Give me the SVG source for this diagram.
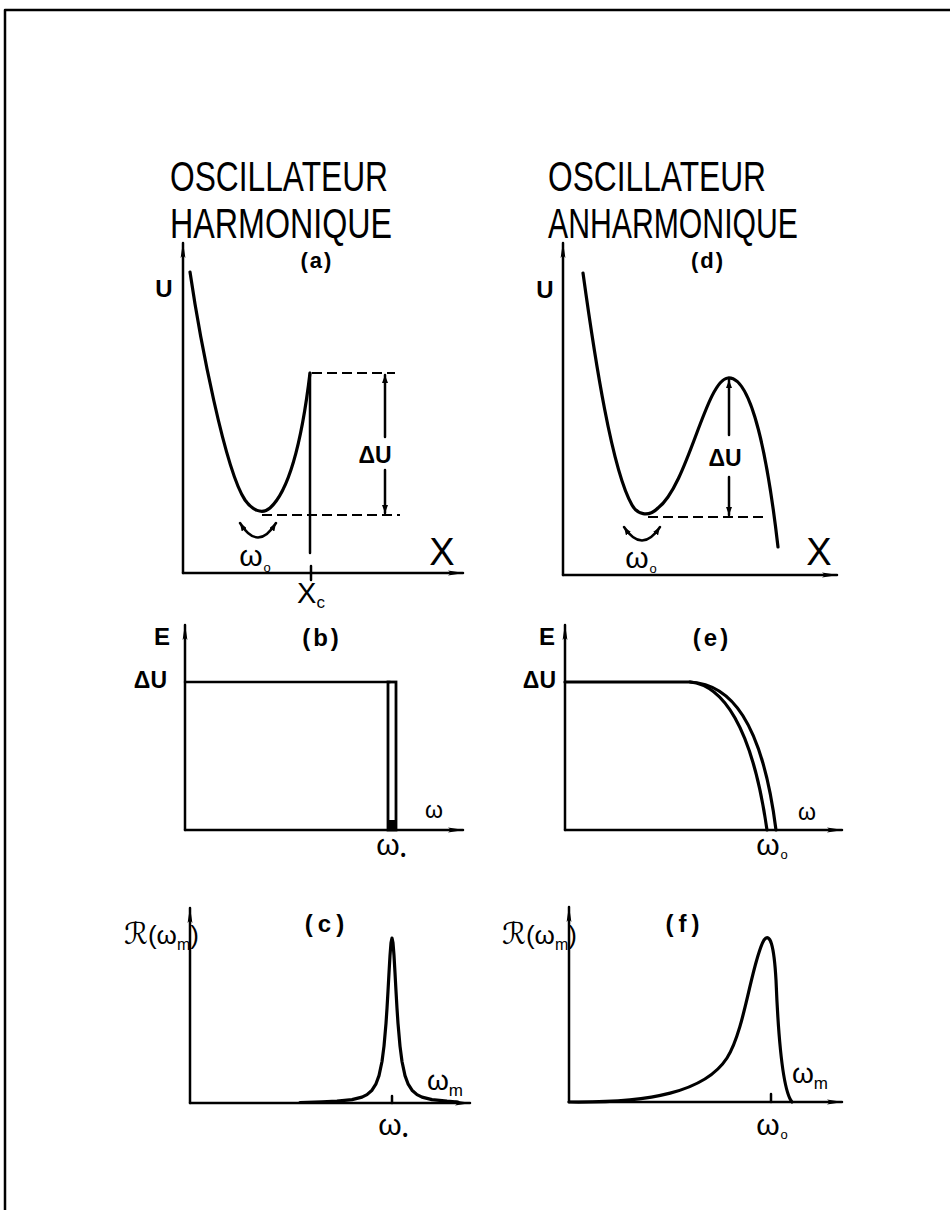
<svg xmlns="http://www.w3.org/2000/svg" width="950" height="1210" viewBox="0 0 950 1210">
<style>
.ln{fill:none;stroke:#000;stroke-width:2.5;stroke-linecap:round;stroke-linejoin:round}
.cv{fill:none;stroke:#000;stroke-width:3.2;stroke-linecap:round;stroke-linejoin:round}
.ds{fill:none;stroke:#000;stroke-width:2;stroke-dasharray:10 5}
.ttl{font-family:"Liberation Sans",Arial,sans-serif;font-size:42px;fill:#000}
.lb{font-family:"Liberation Sans",Arial,sans-serif;font-weight:bold;fill:#000}
.lt{font-family:"Liberation Sans",Arial,sans-serif;fill:#000}
.sr{font-family:"DejaVu Serif","DejaVu Sans",serif;font-style:italic;fill:#000}
</style>
<defs>
<marker id="ax" viewBox="0 0 16 6" refX="15" refY="3" markerWidth="16" markerHeight="6" markerUnits="userSpaceOnUse" orient="auto"><path d="M0,0.6 L16,3 L0,5.4 L3,3 z" fill="#000"/></marker>
<marker id="sm" viewBox="0 0 8 6" refX="8" refY="3" markerWidth="8" markerHeight="6" markerUnits="userSpaceOnUse" orient="auto-start-reverse"><path d="M0,0 L8,3 L0,6 z" fill="#000"/></marker>
</defs>
<rect width="950" height="1210" fill="#fff"/>
<g id="frame"><path class="ln" d="M5,1210 L5,10 L950,10"/></g>
<g id="titles">
<text class="ttl" x="170" y="191" textLength="218" lengthAdjust="spacingAndGlyphs">OSCILLATEUR</text>
<text class="ttl" x="170" y="238" textLength="222" lengthAdjust="spacingAndGlyphs">HARMONIQUE</text>
<text class="ttl" x="548" y="191" textLength="218" lengthAdjust="spacingAndGlyphs">OSCILLATEUR</text>
<text class="ttl" x="548" y="238" textLength="250" lengthAdjust="spacingAndGlyphs">ANHARMONIQUE</text>
</g>
<g id="connectors">
<line class="ln" x1="183" y1="573" x2="183" y2="243" marker-end="url(#ax)"/>
<line class="ln" x1="183" y1="573" x2="463" y2="573" marker-end="url(#ax)"/>
<line class="ln" x1="563" y1="575" x2="563" y2="243" marker-end="url(#ax)"/>
<line class="ln" x1="563" y1="575" x2="837" y2="575" marker-end="url(#ax)"/>
<line class="ln" x1="185" y1="830" x2="185" y2="625" marker-end="url(#ax)"/>
<line class="ln" x1="185" y1="830" x2="463" y2="830" marker-end="url(#ax)"/>
<line class="ln" x1="565" y1="830" x2="565" y2="625" marker-end="url(#ax)"/>
<line class="ln" x1="565" y1="830" x2="842" y2="830" marker-end="url(#ax)"/>
<line class="ln" x1="190" y1="1103" x2="190" y2="908" marker-end="url(#ax)"/>
<line class="ln" x1="190" y1="1103" x2="470" y2="1103" marker-end="url(#ax)"/>
<line class="ln" x1="569" y1="1102" x2="569" y2="907" marker-end="url(#ax)"/>
<line class="ln" x1="569" y1="1102" x2="842" y2="1102" marker-end="url(#ax)"/>
</g>
<g id="panel-a">
<text class="lb" x="317" y="268" font-size="22" text-anchor="middle" letter-spacing="2">(a)</text>
<text class="lb" x="164" y="297" font-size="24" text-anchor="middle">U</text>
<path class="cv" d="M190,272 C200,340 225,470 245,500 C252,510 262,515 270,508 C290,490 302,440 310,373"/>
<line class="ln" x1="310" y1="373" x2="310" y2="553"/>
<line class="ln" x1="311" y1="566" x2="311" y2="580"/>
<line class="ds" x1="312" y1="373" x2="395" y2="373"/>
<line class="ds" x1="262" y1="515" x2="400" y2="515"/>
<line class="ln" stroke-width="2" x1="385" y1="437" x2="385" y2="375" marker-end="url(#sm)"/>
<line class="ln" stroke-width="2" x1="385" y1="470" x2="385" y2="513" marker-end="url(#sm)"/>
<text class="lb" x="375" y="463" font-size="23" text-anchor="middle">ΔU</text>
<path class="ln" d="M240,523 Q258,552 276,523" marker-start="url(#sm)" marker-end="url(#sm)"/>
<text class="lt" x="255" y="566" font-size="30" text-anchor="middle">ω<tspan font-size="13" dx="1" dy="6">o</tspan></text>
<text class="lt" x="442" y="565" font-size="38" text-anchor="middle">X</text>
<text class="lt" x="311" y="603" font-size="29" text-anchor="middle">X<tspan font-size="17" dy="5">c</tspan></text>
</g>
<g id="panel-d">
<text class="lb" x="708" y="268" font-size="22" text-anchor="middle" letter-spacing="2">(d)</text>
<text class="lb" x="545" y="298" font-size="24" text-anchor="middle">U</text>
<path class="cv" d="M583,273 C595,360 612,470 632,505 C637,514 648,518 658,508 C688,485 706,380 728,378 C752,376 768,460 778,547"/>
<line class="ds" x1="648" y1="517" x2="767" y2="517"/>
<line class="ln" stroke-width="2" x1="729" y1="435" x2="729" y2="380" marker-end="url(#sm)"/>
<line class="ln" stroke-width="2" x1="729" y1="477" x2="729" y2="515" marker-end="url(#sm)"/>
<text class="lb" x="725" y="466" font-size="23" text-anchor="middle">ΔU</text>
<path class="ln" d="M624,527 Q642,554 660,527" marker-start="url(#sm)" marker-end="url(#sm)"/>
<text class="lt" x="641" y="568" font-size="30" text-anchor="middle">ω<tspan font-size="13" dx="1" dy="5">o</tspan></text>
<text class="lt" x="819" y="565" font-size="38" text-anchor="middle">X</text>
</g>
<g id="panel-b">
<text class="lb" x="322" y="646" font-size="24" text-anchor="middle" letter-spacing="3">(b)</text>
<text class="lb" x="162" y="645" font-size="24" text-anchor="middle">E</text>
<text class="lb" x="167" y="688" font-size="23" text-anchor="end">ΔU</text>
<line class="ln" x1="185" y1="682" x2="390" y2="682"/>
<rect x="388" y="682" width="8" height="148" fill="none" stroke="#000" stroke-width="2.8"/>
<rect x="388" y="820" width="8" height="10" fill="#000"/>
<text class="lt" x="434" y="818" font-size="23" text-anchor="middle">ω</text>
<text class="lt" x="391" y="855" font-size="30" text-anchor="middle">ω<tspan font-size="14" font-weight="bold" dx="1" dy="5">•</tspan></text>
</g>
<g id="panel-e">
<text class="lb" x="712" y="646" font-size="24" text-anchor="middle" letter-spacing="3">(e)</text>
<text class="lb" x="547" y="645" font-size="24" text-anchor="middle">E</text>
<text class="lb" x="556" y="688" font-size="23" text-anchor="end">ΔU</text>
<path class="cv" d="M565,682 L690,682 C730,684 762,720 776,830"/>
<path class="cv" stroke-width="2.6" d="M690,682 C722,685 752,725 767,830"/>
<text class="lt" x="807" y="820" font-size="23" text-anchor="middle">ω</text>
<text class="lt" x="772" y="855" font-size="30" text-anchor="middle">ω<tspan font-size="13" dx="1" dy="4">o</tspan></text>
</g>
<g id="panel-c">
<text class="lb" x="327" y="932" font-size="24" text-anchor="middle" letter-spacing="5">(c)</text>
<text class="sr" x="124" y="944" font-size="30">ℛ<tspan font-style="normal" font-family="Liberation Sans,Arial,sans-serif" font-size="26">(ω</tspan><tspan font-style="normal" font-family="Liberation Sans,Arial,sans-serif" font-size="16" dy="6">m</tspan><tspan font-style="normal" font-family="Liberation Sans,Arial,sans-serif" font-size="26" dy="-6">)</tspan></text>
<polyline class="cv" points="300,1102.5 322,1101.9 337,1101.2 352,1099.6 362,1097.1 367,1094.6 372,1090.2 376,1083.8 379,1075.6 382,1061.5 384,1046.1 386,1023.3 387,1008.4 388,991.2 389,972.8 390,955.5 391,942.8 392,938 393,942.8 394,955.5 395,972.8 396,991.2 397,1008.4 398,1023.3 400,1046.1 402,1061.5 405,1075.6 408,1083.8 412,1090.2 417,1094.6 422,1097.1 432,1099.6 447,1101.2 458,1102"/>
<line class="ln" x1="392" y1="1096" x2="392" y2="1103"/>
<text class="lt" x="445" y="1090" font-size="28" text-anchor="middle">ω<tspan font-size="17" dy="6">m</tspan></text>
<text class="lt" x="393" y="1135" font-size="30" text-anchor="middle">ω<tspan font-size="14" font-weight="bold" dx="1" dy="5">•</tspan></text>
</g>
<g id="panel-f">
<text class="lb" x="685" y="932" font-size="24" text-anchor="middle" letter-spacing="5">(f)</text>
<text class="sr" x="502" y="944" font-size="30">ℛ<tspan font-style="normal" font-family="Liberation Sans,Arial,sans-serif" font-size="26">(ω</tspan><tspan font-style="normal" font-family="Liberation Sans,Arial,sans-serif" font-size="16" dy="6">m</tspan><tspan font-style="normal" font-family="Liberation Sans,Arial,sans-serif" font-size="26" dy="-6">)</tspan></text>
<path class="cv" d="M569,1102 C650,1103 705,1092 727,1058 C745,1030 752,960 764,940 C770,932 774,945 776,980 C778,1030 782,1090 792,1102"/>
<line class="ln" x1="771" y1="1094" x2="771" y2="1102"/>
<text class="lt" x="810" y="1083" font-size="28" text-anchor="middle">ω<tspan font-size="17" dy="6">m</tspan></text>
<text class="lt" x="772" y="1135" font-size="30" text-anchor="middle">ω<tspan font-size="13" dx="1" dy="4">o</tspan></text>
</g>
</svg>
